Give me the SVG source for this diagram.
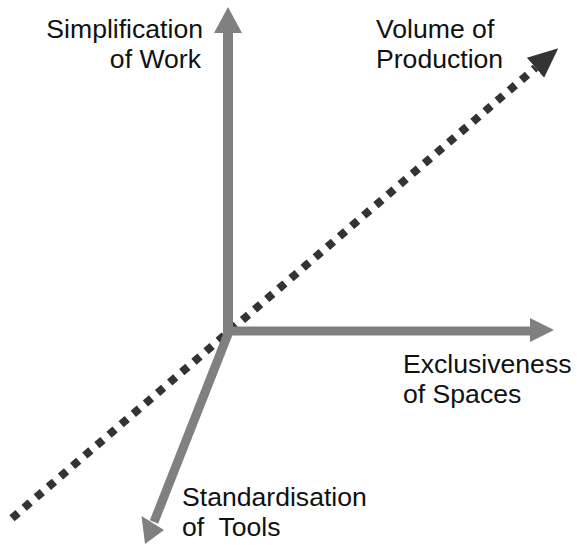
<svg xmlns="http://www.w3.org/2000/svg" width="577" height="545" viewBox="0 0 577 545">
<style>
.lbl{font-family:"Liberation Sans",Arial,sans-serif;font-size:26.6px;fill:#111;}
.axis{stroke:#808080;fill:none;}
.head{fill:#808080;}
</style>
<defs>
<marker id="darrow" markerUnits="userSpaceOnUse" markerWidth="30" markerHeight="30" refX="0" refY="11" orient="auto" viewBox="0 0 25 22">
<polygon points="0,0 25,11 0,22" fill="#333"/>
</marker>
</defs>
<rect width="577" height="545" fill="#fff"/>
<g id="connectors">
<line id="volume" x1="12" y1="518.2" x2="535.5" y2="67.8" stroke="#333" stroke-width="8" stroke-dasharray="8 8" marker-end="url(#darrow)"/>
<line class="axis" x1="228" y1="335" x2="228" y2="32" stroke-width="10"/>
<polygon class="head" points="228,7 242,33 214,33"/>
<line class="axis" x1="226" y1="331" x2="531" y2="331" stroke-width="9"/>
<polygon class="head" points="554,330 530,318 530,342"/>
<line class="axis" x1="230" y1="329" x2="154" y2="522" stroke-width="9"/>
<polygon class="head" points="145,544 141.5,516 164,530"/>
</g>
<g id="simplification">
<text class="lbl" x="203" y="38" text-anchor="end">Simplification</text>
<text class="lbl" x="201" y="68" text-anchor="end">of Work</text>
</g>
<g id="volume-label">
<text class="lbl" x="376" y="38">Volume of</text>
<text class="lbl" x="376" y="68">Production</text>
</g>
<g id="exclusiveness">
<text class="lbl" x="403" y="373">Exclusiveness</text>
<text class="lbl" x="403" y="403">of Spaces</text>
</g>
<g id="standardisation">
<text class="lbl" x="182" y="506">Standardisation</text>
<text class="lbl" x="182" y="536" xml:space="preserve" style="white-space:pre">of  Tools</text>
</g>
</svg>
